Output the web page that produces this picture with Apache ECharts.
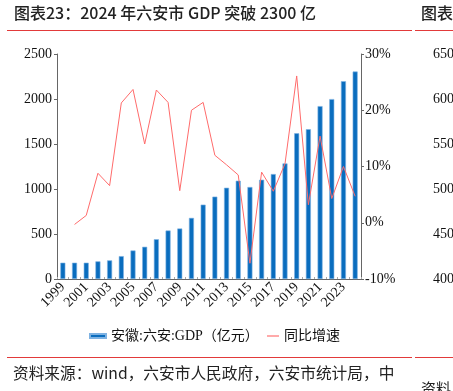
<!DOCTYPE html>
<html><head><meta charset="utf-8">
<script src="https://cdn.jsdelivr.net/npm/echarts@6/dist/echarts.min.js"></script>
<style>html,body{margin:0;padding:0;background:#fff}#c{width:453px;height:391px}</style>
</head><body><div id="c"></div>
<script>
const years = ['1999','2000','2001','2002','2003','2004','2005','2006','2007','2008','2009','2010','2011','2012','2013','2014','2015','2016','2017','2018','2019','2020','2021','2022','2023','2024'];
const gdp = [181,181,181,196,207,254,317,358,442,539,561,679,826,915,1014,1092,1022,1103,1166,1284,1619,1664,1921,1999,2198,2305];
const growth = [null,-0.3,1.3,8.8,6.6,21.3,23.7,14.0,23.6,21.4,5.7,20.0,21.4,12.0,10.3,8.5,-7.2,9.0,5.6,10.5,26.1,3.2,15.4,4.3,10.0,4.7];
const leftTicks = {min:0,max:2500,interval:500};
const rightTicks = {min:-10,max:30,interval:10};
const sideTicks = {min:400,max:650,interval:50};
const titleText = '图表23：2024 年六安市 GDP 突破 2300 亿';
const sourceText = '资料来源：wind，六安市人民政府，六安市统计局，中';
const barName = '安徽:六安:GDP（亿元）';
const lineName = '同比增速';

const serif = "'Liberation Serif','Noto Sans CJK SC'";
const chart = echarts.init(document.getElementById('c'));
chart.setOption({
  animation:false,
  grid:[{left:57,right:92,top:54,bottom:112},{left:458,width:80,top:54,bottom:112}],
  xAxis:[{type:'category',data:years,gridIndex:0,boundaryGap:true,
    axisLine:{lineStyle:{color:'#666',width:1}},
    axisTick:{show:true,inside:true,length:2,interval:0,lineStyle:{color:'#aaa'}},
    axisLabel:{interval:1,rotate:45,fontFamily:serif,fontSize:14,color:'#111',margin:6}},
    {type:'category',data:['a'],gridIndex:1,show:false}],
  yAxis:[{type:'value',gridIndex:0,position:'left',min:leftTicks.min,max:leftTicks.max,interval:leftTicks.interval,
    splitLine:{show:false},axisLine:{show:true,lineStyle:{color:'#666'}},axisTick:{show:true,length:3,lineStyle:{color:'#666'}},
    axisLabel:{fontFamily:serif,fontSize:14,color:'#111',margin:5,formatter:v=>String(v)}},
    {type:'value',gridIndex:0,position:'right',min:rightTicks.min,max:rightTicks.max,interval:rightTicks.interval,
    splitLine:{show:false},axisLine:{show:true,lineStyle:{color:'#666'}},axisTick:{show:true,length:3,lineStyle:{color:'#666'}},
    axisLabel:{fontFamily:serif,fontSize:14,color:'#111',margin:4,formatter:v=>v+'%'}},
    {type:'value',gridIndex:1,position:'left',min:sideTicks.min,max:sideTicks.max,interval:sideTicks.interval,
    splitLine:{show:false},axisLine:{show:false},axisTick:{show:false},
    axisLabel:{fontFamily:serif,fontSize:14,color:'#111',margin:4,formatter:v=>String(v)}}],
  legend:[{data:[{name:barName,icon:'rect'}],left:84,top:324,itemWidth:16,itemHeight:4,
    textStyle:{fontFamily:serif,fontSize:14,color:'#111'}},
    {data:[{name:lineName,icon:'rect'}],left:262,top:324,itemWidth:12,itemHeight:1,
    itemStyle:{color:'#FF5555'},
    textStyle:{fontFamily:serif,fontSize:14,color:'#111'}}],
  series:[{name:barName,type:'bar',data:gdp,xAxisIndex:0,yAxisIndex:0,barWidth:5,
    itemStyle:{color:'#0A6DBE',borderColor:'#7EB2E2',borderWidth:0.6}},
    {name:lineName,type:'line',data:growth,xAxisIndex:0,yAxisIndex:1,symbol:'none',
    lineStyle:{color:'#FF6B6B',width:1},itemStyle:{color:'#FF5555'}}],
  graphic:[
    {type:'text',left:14,top:5,style:{text:titleText,fontFamily:"'Noto Sans CJK SC'",fontSize:16,fontWeight:500,fill:'#222'}},
    {type:'text',left:421,top:5,style:{text:'图表2',fontFamily:"'Noto Sans CJK SC'",fontSize:16,fontWeight:500,fill:'#222'}},
    {type:'line',shape:{x1:7,y1:30.5,x2:412,y2:30.5},style:{stroke:'#E23A3A',lineWidth:1}},
    {type:'line',shape:{x1:415,y1:30.5,x2:453,y2:30.5},style:{stroke:'#E23A3A',lineWidth:1}},
    {type:'line',shape:{x1:7,y1:357.5,x2:412,y2:357.5},style:{stroke:'#E23A3A',lineWidth:1}},
    {type:'line',shape:{x1:415,y1:357.5,x2:453,y2:357.5},style:{stroke:'#E23A3A',lineWidth:1}},
    {type:'text',left:13,top:365,style:{text:sourceText,fontFamily:"'Noto Sans CJK SC'",fontSize:15.7,fill:'#222'}},
    {type:'text',left:421,top:381,style:{text:'资料',fontFamily:"'Noto Sans CJK SC'",fontSize:15,fill:'#222'}}
  ]
});
</script></body></html>
